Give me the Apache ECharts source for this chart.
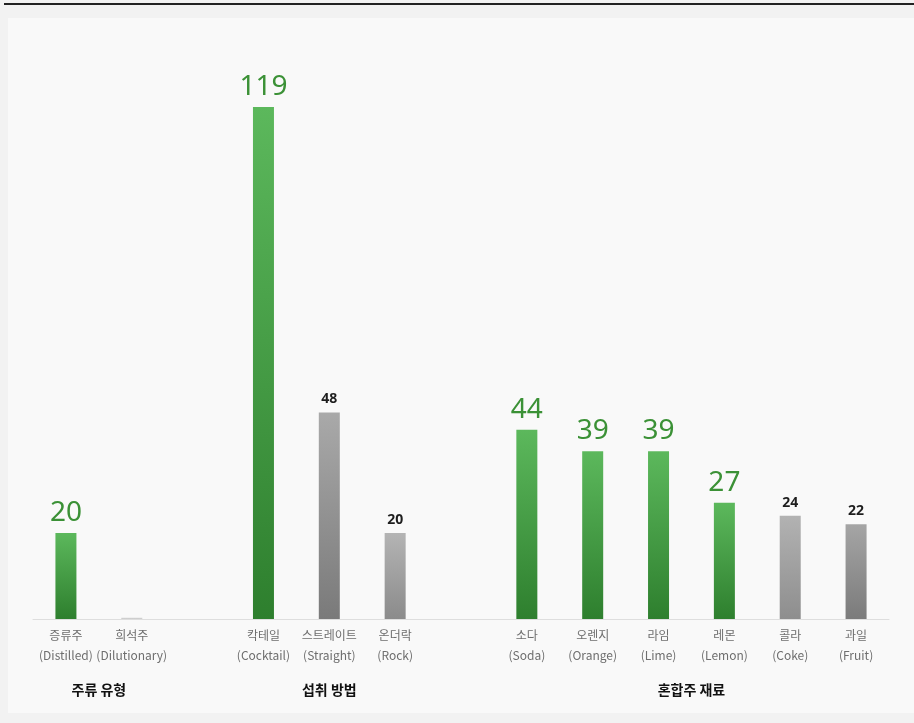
<!DOCTYPE html>
<html>
<head>
<meta charset="utf-8">
<script src="https://cdn.jsdelivr.net/npm/echarts@6/dist/echarts.min.js"></script>
<style>
  html, body { margin: 0; padding: 0; width: 914px; height: 723px; background: #f2f2f2; overflow: hidden; }
  #topline { position: absolute; left: 4px; top: 3px; width: 910px; height: 2px; background: #222; }
  #chart { position: absolute; left: 8px; top: 18px; width: 906px; height: 695px; background: #f9f9f9; }
</style>
</head>
<body>
<div id="topline"></div>
<div id="chart"></div>
<script>
// ---- data ----
var namesKo = ['증류주', '희석주', '', '칵테일', '스트레이트', '온더락', '', '소다', '오렌지', '라임', '레몬', '콜라', '과일'];
var namesEn = ['(Distilled)', '(Dilutionary)', '', '(Cocktail)', '(Straight)', '(Rock)', '', '(Soda)', '(Orange)', '(Lime)', '(Lemon)', '(Coke)', '(Fruit)'];
var values = [20, 0.3, null, 119, 48, 20, null, 44, 39, 39, 27, 24, 22];
var highlighted = [true, false, false, true, false, false, false, true, true, true, true, false, false];
var showLabel = [true, false, false, true, true, true, false, true, true, true, true, true, true];
var groupTitles = ['주류 유형', '섭취 방법', '혼합주 재료'];
var groupSpans = [[0, 1], [3, 5], [7, 12]];

// ---- styles (separate from data) ----
var grayTones = {1: ['#d8d8d8', '#c8c8c8'], 4: ['#a9a9a9', '#7a7a7a'], 5: ['#b4b4b4', '#8b8b8b'], 11: ['#b2b2b2', '#8e8e8e'], 12: ['#a5a5a5', '#7b7b7b']};
function grad(c1, c2) {
  return new echarts.graphic.LinearGradient(0, 0, 0, 1, [{offset: 0, color: c1}, {offset: 1, color: c2}]);
}

var cats = namesKo.map(function (k, i) { return k ? k + '\n' + namesEn[i] : ''; });

var seriesData = values.map(function (v, i) {
  if (v === null) return {value: null};
  var hl = highlighted[i];
  var tone = hl ? ['#5cb85c', '#2e7f2e'] : (grayTones[i] || ['#acacac', '#808080']);
  return {
    value: v,
    itemStyle: {color: grad(tone[0], tone[1])},
    label: showLabel[i] ? (hl ? {
      show: true, position: 'top', distance: 6,
      fontSize: 28, color: '#3b9136', fontFamily: 'Noto Sans, sans-serif', fontWeight: 'normal'
    } : {
      show: true, position: 'top', distance: 6,
      fontSize: 14, color: '#1e1e1e', fontFamily: 'Noto Sans, sans-serif', fontWeight: 'bold'
    }) : {show: false}
  };
});

var chart = echarts.init(document.getElementById('chart'));
var option = {
  animation: false,
  backgroundColor: 'transparent',
  grid: {left: 25, right: 25, top: 89, bottom: 94},
  xAxis: {
    type: 'category',
    data: cats,
    axisLine: {show: true, lineStyle: {color: '#dedede', width: 1}},
    axisTick: {show: false},
    axisLabel: {
      interval: 0, color: '#6e6e6e', fontSize: 12, lineHeight: 20, margin: 6,
      fontFamily: 'Noto Sans CJK KR, Noto Sans, sans-serif'
    }
  },
  yAxis: {
    type: 'value', min: 0, max: 119,
    show: false, splitLine: {show: false}
  },
  series: [{
    type: 'bar',
    data: seriesData,
    barWidth: 21
  }]
};
chart.setOption(option);

// group titles centered under their category spans
var gfx = groupTitles.map(function (t, g) {
  var a = chart.convertToPixel({xAxisIndex: 0}, groupSpans[g][0]);
  var b = chart.convertToPixel({xAxisIndex: 0}, groupSpans[g][1]);
  return {
    type: 'text',
    x: (a + b) / 2,
    y: 672,
    style: {
      text: t, align: 'center', verticalAlign: 'middle',
      fontSize: 14, fontWeight: 'bold', fill: '#111',
      fontFamily: 'Noto Sans CJK KR, sans-serif'
    }
  };
});
chart.setOption({graphic: gfx});
</script>
</body>
</html>
